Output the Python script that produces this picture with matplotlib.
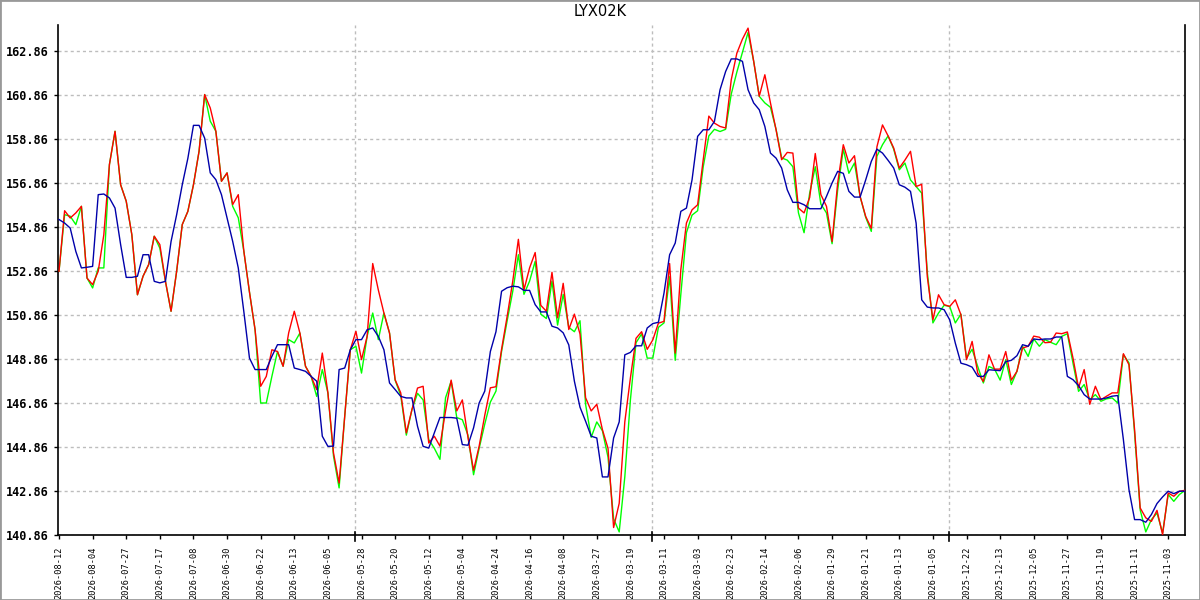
import matplotlib
matplotlib.use("Agg")
import matplotlib.pyplot as plt
from matplotlib.patches import Rectangle
import matplotlib.transforms as mtransforms

title = "LYX02K"

date_labels = ["2026-08-12", "2026-08-04", "2026-07-27", "2026-07-17", "2026-07-08",
               "2026-06-30", "2026-06-22", "2026-06-13", "2026-06-05", "2026-05-28",
               "2026-05-20", "2026-05-12", "2026-05-04", "2026-04-24", "2026-04-16",
               "2026-04-08", "2026-03-27", "2026-03-19", "2026-03-11", "2026-03-03",
               "2026-02-23", "2026-02-14", "2026-02-06", "2026-01-29", "2026-01-21",
               "2026-01-13", "2026-01-05", "2025-12-22", "2025-12-13", "2025-12-05",
               "2025-11-27", "2025-11-19", "2025-11-11", "2025-11-03"]

y_ticks = [140.86, 142.86, 144.86, 146.86, 148.86, 150.86, 152.86,
           154.86, 156.86, 158.86, 160.86, 162.86]

red_series = [
    152.85, 155.6, 155.27, 155.5, 155.8, 152.54, 152.24, 152.85, 154.51, 157.7,
    159.21, 156.78, 156.03, 154.51, 151.78, 152.62, 153.15, 154.44, 154.06, 152.39,
    151.03, 152.85, 154.97, 155.57, 156.78, 158.3, 160.88, 160.27, 159.21, 156.94,
    157.32, 155.88, 156.33, 153.75, 151.9, 150.19, 147.62, 148.07, 149.28, 149.2,
    148.53, 150.05, 151.03, 150.04, 148.53, 148.07, 147.47, 149.13, 147.32, 144.59,
    143.22, 146.25, 149.28, 150.12, 148.83, 149.89, 153.2, 152.0, 150.95, 150.04,
    147.92, 147.32, 145.5, 146.56, 147.54, 147.62, 145.04, 145.35, 144.9, 146.5,
    147.9, 146.5, 147.0, 145.3, 143.8, 144.9, 146.3, 147.55, 147.6, 149.3,
    150.8, 152.4, 154.3, 152.0, 153.0, 153.7, 151.3, 151.03, 152.8, 150.73,
    152.3, 150.2, 150.9, 150.0, 147.1, 146.5, 146.8, 145.65, 144.8, 141.2,
    142.3, 146.0, 148.0, 149.8, 150.1, 149.3, 149.73, 150.49, 150.57, 153.2,
    149.13, 152.92, 155.04, 155.64, 155.87, 157.92, 159.9, 159.58, 159.43, 159.36,
    161.55, 162.76, 163.4, 163.9, 162.4, 160.8, 161.78, 160.5, 159.28, 157.92,
    158.25, 158.22, 155.72, 155.5, 156.2, 158.2, 156.33, 155.8, 154.2, 156.86,
    158.6, 157.77, 158.1, 156.25, 155.34, 154.8, 158.5, 159.5, 159.0, 158.45,
    157.54, 157.9, 158.3, 156.7, 156.8, 152.6, 150.64, 151.78, 151.33, 151.25,
    151.55, 150.87, 148.83, 149.66, 148.22, 147.84, 149.05, 148.4, 148.4, 149.2,
    147.9, 148.3, 149.36, 149.44, 149.9, 149.85, 149.6, 149.62, 150.04, 150.01,
    150.09, 148.91, 147.55, 148.38, 146.8, 147.62, 147.01, 147.17, 147.32, 147.32,
    149.1, 148.6, 145.65, 142.09, 141.64, 141.48, 141.98, 140.88, 142.77, 142.62,
    142.85, 142.89]

green_series = [
    152.85, 155.42, 155.35, 154.97, 155.8, 152.54, 152.09, 153.0, 153.0, 157.7,
    159.21, 156.78, 156.03, 154.51, 151.78, 152.62, 153.15, 154.44, 153.9, 152.39,
    151.03, 152.85, 154.97, 155.57, 156.78, 158.3, 160.88, 159.67, 159.21, 156.94,
    157.32, 155.8, 155.28, 153.75, 151.9, 150.19, 146.86, 146.86, 148.07, 149.2,
    148.53, 149.74, 149.59, 150.04, 148.53, 148.07, 147.16, 148.38, 147.32, 144.45,
    143.0, 146.25, 149.28, 149.44, 148.22, 149.89, 150.95, 149.74, 150.95, 150.04,
    147.9, 147.2, 145.4, 146.56, 147.3, 147.0, 145.2, 144.8, 144.3, 147.1,
    147.85, 146.2, 146.1, 145.4, 143.6, 144.8, 145.9, 146.9, 147.4, 149.2,
    150.6, 151.94, 153.6, 151.8, 152.4, 153.3, 150.9, 150.7, 152.4, 150.4,
    151.8, 150.3, 150.1, 150.6, 146.8, 145.3, 146.0, 145.6, 144.4, 141.6,
    141.0, 143.5, 147.0, 149.6, 150.0, 148.9, 148.9, 150.3, 150.5, 152.6,
    148.8, 151.8, 154.6, 155.4, 155.6, 157.6, 159.0, 159.3, 159.2, 159.3,
    160.9, 161.9, 162.8, 163.7, 162.4, 160.8, 160.5, 160.3, 159.3, 158.0,
    157.9, 157.6, 155.5, 154.6, 156.4, 157.6, 155.9, 155.5, 154.1, 156.55,
    158.4, 157.3, 157.77, 156.25, 155.3, 154.66, 158.07, 158.6, 159.0, 158.4,
    157.46, 157.77, 157.0, 156.7, 156.4, 152.8, 150.5, 150.95, 151.3, 151.25,
    150.5, 150.9, 148.9, 149.3, 148.52, 147.77, 148.52, 148.4, 147.9, 148.83,
    147.7, 148.3, 149.44, 148.98, 149.77, 149.44, 149.74, 149.62, 149.51, 149.89,
    150.01, 148.68, 147.39, 147.7, 147.01, 147.24, 146.94, 147.05, 147.09, 146.86,
    149.06, 148.68, 145.5, 142.0, 141.0, 141.56, 141.86, 140.95, 142.7, 142.39,
    142.7, 142.89]

blue_series = [
    155.2, 155.04, 154.81, 153.75, 153.0, 153.03, 153.07, 156.33, 156.36, 156.18,
    155.72, 154.06, 152.57, 152.57, 152.62, 153.6, 153.6, 152.39, 152.32, 152.39,
    154.2, 155.42, 156.78, 157.98, 159.48, 159.48, 158.9, 157.32, 157.01, 156.33,
    155.27, 154.21, 153.0, 151.0, 148.9, 148.38, 148.38, 148.38, 148.98, 149.51,
    149.51, 149.51, 148.45, 148.38, 148.3, 148.07, 147.85, 145.35, 144.89, 144.9,
    148.38, 148.45, 149.28, 149.74, 149.74, 150.19, 150.27, 149.89, 149.28, 147.77,
    147.47, 147.16, 147.09, 147.09, 145.8, 144.89, 144.81, 145.5, 146.2, 146.2,
    146.2, 146.17, 144.97, 144.94, 145.73, 146.86, 147.4, 149.2, 150.1, 151.94,
    152.1, 152.17, 152.14, 151.98, 151.98, 151.33, 151.0, 151.0, 150.35, 150.27,
    150.05, 149.5, 147.85, 146.67, 146.03, 145.35, 145.27, 143.5, 143.5, 145.27,
    146.0, 149.05, 149.16, 149.46, 149.46, 150.27, 150.47, 150.53, 151.86, 153.6,
    154.13, 155.57, 155.72, 157.0, 158.98, 159.28, 159.28, 159.66, 161.1, 161.93,
    162.5, 162.5, 162.39, 161.1, 160.5, 160.19, 159.43, 158.22, 157.99, 157.54,
    156.55, 155.98, 155.98, 155.87, 155.69, 155.69, 155.69, 156.25, 156.86, 157.39,
    157.3, 156.48, 156.22, 156.22, 157.0, 157.84, 158.4, 158.22, 157.89, 157.54,
    156.78, 156.67, 156.48, 155.04, 151.55, 151.22, 151.18, 151.18, 151.1, 150.64,
    149.58, 148.67, 148.6, 148.49, 148.07, 148.07, 148.37, 148.35, 148.33, 148.74,
    148.8, 149.01, 149.51, 149.44, 149.77, 149.74, 149.77, 149.77, 149.86, 149.86,
    148.07, 147.92, 147.65, 147.24, 147.04, 147.04, 147.04, 147.09, 147.17, 147.2,
    145.2, 142.92, 141.56, 141.56, 141.44, 141.79, 142.29, 142.59, 142.85, 142.74,
    142.85, 142.85]

major_marks = [52.85, 105.8, 158.85]

fig = plt.figure(figsize=(12, 6), dpi=100)
fig.patch.set_facecolor("white")
ax = fig.add_axes([58 / 1200, 1 - 535 / 600, (1185 - 58) / 1200, (535 - 25) / 600])

x = list(range(len(red_series)))

ax.yaxis.grid(True, linestyle=(0, (2.2, 2.2)), color="#bdbdbd", linewidth=1.0)
for m in major_marks:
    ax.axvline(m, linestyle=(0, (2.2, 2.2)), color="#bdbdbd", linewidth=1.0, zorder=0.5)
ax.set_axisbelow(True)

ax.plot(x, green_series, color="#00ff00", linewidth=1.0, zorder=2)
ax.plot(x, red_series, color="#ff0000", linewidth=1.0, zorder=3)
ax.plot(x, blue_series, color="#0000aa", linewidth=1.0, zorder=4)

ax.set_xlim(-0.18, 201.0)
ax.set_ylim(140.86, 140.86 + 510 / 22)

ax.set_yticks(y_ticks)
ax.set_yticklabels([f"{v:.2f}" for v in y_ticks], fontfamily="DejaVu Sans Mono",
                   fontweight="bold", fontsize=8.5)
ax.set_xticks(list(range(0, 6 * len(date_labels), 6)))
ax.set_xticklabels(date_labels, rotation=90, fontfamily="DejaVu Sans Mono", fontsize=6.2)

ax.tick_params(axis="y", length=3, width=1, pad=4, colors="black")
ax.tick_params(axis="x", length=3, width=1, pad=5, colors="black")

for s in ["left", "bottom", "right"]:
    ax.spines[s].set_color("black")
    ax.spines[s].set_linewidth(1.2)
ax.spines["top"].set_visible(False)

trans = mtransforms.blended_transform_factory(ax.transData, ax.transAxes)
for m in major_marks:
    ax.plot([m, m], [-0.012, 0.006], color="black", linewidth=1.2, transform=trans,
            clip_on=False, zorder=5)

fig.text(0.5, 1 - 12 / 600, title, ha="center", va="center", fontsize=10.5,
         fontfamily="DejaVu Sans")

fig.patches.append(Rectangle((0, 0), 1, 1, transform=fig.transFigure, fill=False,
                             edgecolor="#999999", linewidth=2.0))

fig.savefig("out.png", dpi=100, facecolor="white")
